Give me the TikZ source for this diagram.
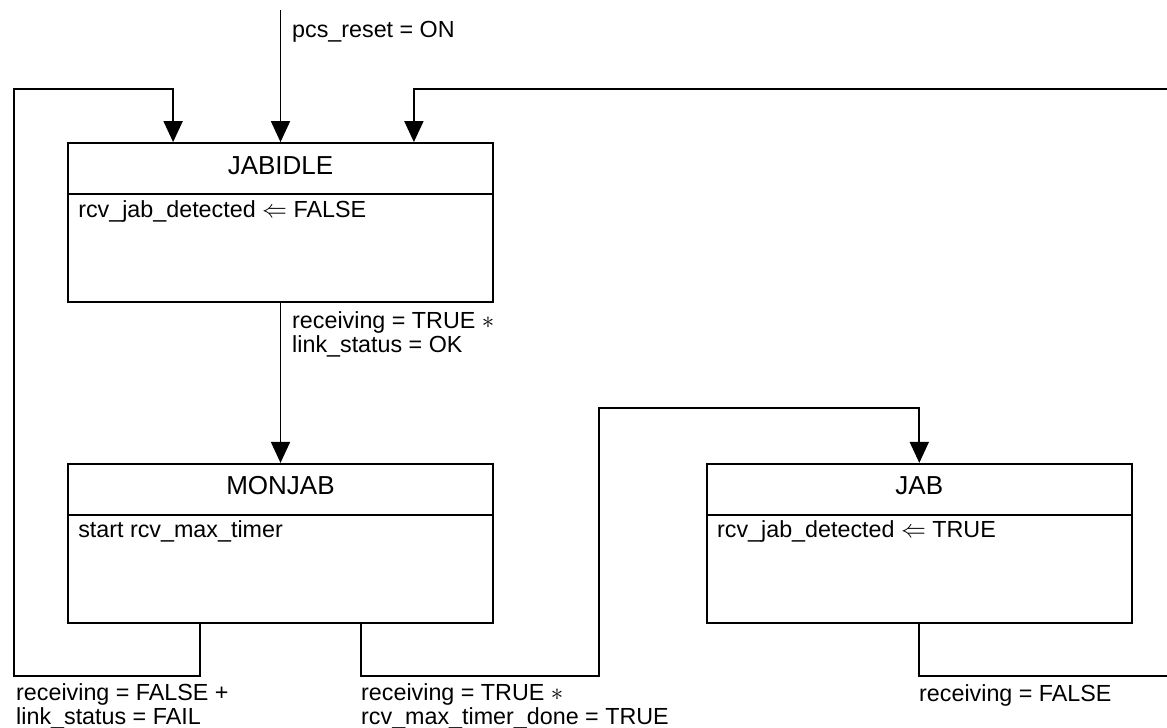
\documentclass[tikz,border=0pt]{standalone}
\usepackage{fontspec}
\setmainfont{Liberation Sans}
\usetikzlibrary{arrows.meta,positioning,calc}

\begin{document}
\begin{tikzpicture}[
  x=1pt, y=-1pt,
  statebox/.style={draw, line width=1.8pt, minimum width=425pt, minimum height=159pt, inner sep=0pt},
  stitle/.style={font=\fontsize{26}{30}\selectfont, anchor=base, inner sep=0pt},
  sbody/.style={font=\fontsize{23.3}{24}\selectfont, anchor=base west, inner sep=0pt},
  lbl/.style={font=\fontsize{23.3}{24}\selectfont, align=left, anchor=base west, inner sep=0pt},
  arr/.style={-{Triangle[length=21pt, width=19pt]}, line width=1.8pt},
  wire/.style={line width=1.8pt},
  node distance=160pt and 212pt
]
  \useasboundingbox (0,0) rectangle (1167,728);

  % states
  \node[statebox] (jabidle) at (280.5,222.5) {};
  \node[statebox, below=of jabidle] (monjab) {};
  \node[statebox, right=of monjab] (jab) {};

  \foreach \s/\t/\b in {jabidle/JABIDLE/{rcv\_jab\_detected $\Leftarrow$ FALSE},
                        monjab/MONJAB/{start rcv\_max\_timer},
                        jab/JAB/{rcv\_jab\_detected $\Leftarrow$ TRUE}} {
    \draw[wire] ($(\s.north west)+(0,52)$) -- ($(\s.north east)+(0,52)$);
    \node[stitle] (\s-title) at ($(\s.north)+(0,32)$) {\t};
    \node[sbody] (\s-body) at ($(\s.north west)+(11,75)$) {\b};
  }

  % rails
  \coordinate (rst) at (280.5,10);
  \coordinate (railL) at (14,89);
  \coordinate (railR) at (1180,89);
  \coordinate (hop) at (599,408);

  % transitions (two-line labels sit on the baseline of their last line)
  \draw[arr] (rst) -- (jabidle.north);
  \node[lbl] (l-rst) at (292,37) {pcs\_reset = ON};

  \draw[arr] (jabidle) -- (monjab);
  \node[lbl] (l-ok) at (292,352) {receiving = TRUE $\ast$\\link\_status = OK};

  \draw[arr] ($(monjab.south west)+(133,0)$) -- ++(0,52) -| (railL) -| ($(jabidle.north west)+(106,0)$);
  \node[lbl] (l-fail) at (16,724) {receiving = FALSE +\\link\_status = FAIL};

  \draw[arr] ($(monjab.south east)+(-133,0)$) -- ++(0,52) -| (hop) -| (jab.north);
  \node[lbl] (l-done) at (361,724) {receiving = TRUE $\ast$\\rcv\_max\_timer\_done = TRUE};

  \draw[arr] (jab.south) -- ++(0,52) -| (railR) -| ($(jabidle.north east)+(-80,0)$);
  \node[lbl] (l-idle) at (919,701) {receiving = FALSE};
\end{tikzpicture}
\end{document}
